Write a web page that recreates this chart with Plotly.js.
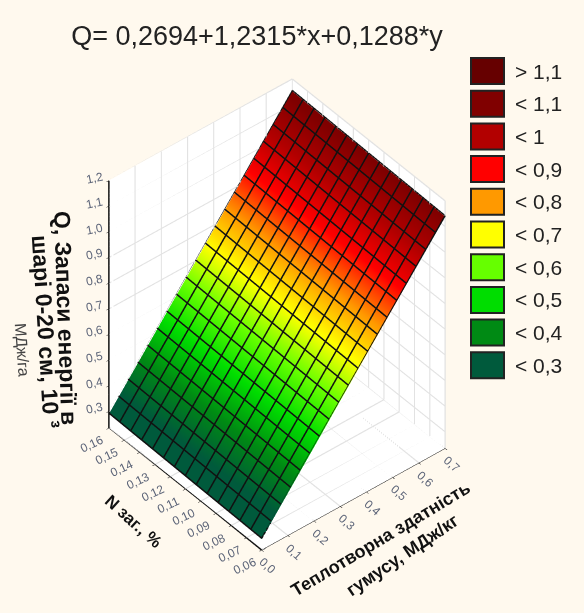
<!DOCTYPE html>
<html><head><meta charset="utf-8">
<script src="https://cdn.plot.ly/plotly-3.0.1.min.js"></script>
<style>html,body{margin:0;padding:0;background:#fff9ee}</style></head>
<body><div id="c" style="width:584px;height:613px"></div>
<script>
const xVals=[0,0.1,0.2,0.3,0.4,0.5,0.6,0.7];
const yVals=[0.06,0.08,0.10,0.12,0.14,0.16];
const zRow006=[0.277,0.400,0.523,0.647,0.770,0.893,1.016,1.139];
const zRow008=[0.280,0.403,0.526,0.649,0.772,0.895,1.019,1.142];
const zRow010=[0.282,0.405,0.529,0.652,0.775,0.898,1.021,1.144];
const zRow012=[0.285,0.408,0.531,0.654,0.777,0.901,1.024,1.147];
const zRow014=[0.287,0.411,0.534,0.657,0.780,0.903,1.026,1.149];
const zRow016=[0.290,0.413,0.536,0.659,0.783,0.906,1.029,1.152];
const zRows=[zRow006,zRow008,zRow010,zRow012,zRow014,zRow016];
const legendLabels=['> 1,1','< 1,1','< 1','< 0,9','< 0,8','< 0,7','< 0,6','< 0,5','< 0,4','< 0,3'];
const legendColors=['#660000','#800000','#b20000','#ff0000','#ff9900','#ffff00','#66ff00','#00dd00','#008a14','#005a3c'];
const levelValues=[1.24,1.14,1.04,0.94,0.84,0.74,0.64,0.54,0.44,0.34];
const xTicks=[0,0.1,0.2,0.3,0.4,0.5,0.6,0.7];
const yTicks=[0.06,0.07,0.08,0.09,0.10,0.11,0.12,0.13,0.14,0.15,0.16];
const zTicks=[0.3,0.4,0.5,0.6,0.7,0.8,0.9,1.0,1.1,1.2];
const zMin=0.235,zMax=1.2,xMax=0.7,yMin=0.06,yMax=0.16;
const xCells=19,yCells=14;
const titleText='Q= 0,2694+1,2315*x+0,1288*y';
const bg='#fff9ee';
const fmt=(v,d)=>v.toFixed(d).replace('.',',');
const tickFont={family:'Liberation Sans',size:12,color:'#5c6478'};
const ann=[];
xTicks.forEach(v=>ann.push({x:v,y:yMin,z:zMin,text:fmt(v,1),textangle:42,showarrow:false,xshift:6,yshift:-16,font:tickFont}));
yTicks.forEach(v=>ann.push({x:0,y:v,z:zMin,text:fmt(v,2),textangle:-25,showarrow:false,xshift:-17,yshift:-16,font:tickFont}));
zTicks.forEach(v=>ann.push({x:0,y:yMax,z:v,text:fmt(v,1),textangle:-12,showarrow:false,xshift:-14,yshift:3,font:tickFont}));
const bold=s=>({family:'Liberation Sans',size:s,color:'#111'});
ann.push({x:0,y:yMax,z:0.665,text:'<b>Q, Запаси енергії в</b>',textangle:88,showarrow:false,xshift:-43,font:bold(23)});
ann.push({x:0,y:yMax,z:0.61,text:'<b>шарі 0-20 см, 10 ³</b>',textangle:86.5,showarrow:false,xshift:-63,font:bold(23)});
ann.push({x:0,y:yMax,z:0.54,text:'МДж/га',textangle:86,showarrow:false,xshift:-87,font:{family:'Liberation Sans',size:16,color:'#444'}});
ann.push({x:0,y:0.11,z:zMin,text:'<b>N заг., %</b>',textangle:42,showarrow:false,xshift:-52,yshift:-32,font:bold(17)});
ann.push({x:0.4,y:yMin,z:zMin,text:'<b>Теплотворна здатність</b>',textangle:-31,showarrow:false,xshift:14,yshift:-47,font:bold(18)});
ann.push({x:0.4,y:yMin,z:zMin,text:'<b>гумусу, МДж/кг</b>',textangle:-34,showarrow:false,xshift:36,yshift:-63,font:bold(18)});
const vmin=0.24,vmax=1.24;
const cs=levelValues.map((v,i)=>[(v-vmin)/(vmax-vmin),legendColors[i]]).reverse();
cs.unshift([0,'#005a3c']);
const surface={type:'surface',x:xVals,y:yVals,z:zRows,cmin:vmin,cmax:vmax,colorscale:cs,showscale:false,hoverinfo:'skip',
 lighting:{ambient:1,diffuse:0,specular:0,roughness:1,fresnel:0}};
const lift=0.004;
const gx=[],gy=[],gz=[];
const nRow=yVals.length-1,nCol=xVals.length-1;
function edgeZ(xFrac,row){return zRows[row][0]+(zRows[row][nCol]-zRows[row][0])*xFrac;}
for(let i=0;i<=xCells;i++){const f=i/xCells;
 gx.push(xMax*f,xMax*f,null);gy.push(yMin,yMax,null);gz.push(edgeZ(f,0)+lift,edgeZ(f,nRow)+lift,null);}
for(let j=0;j<=yCells;j++){const g=j/yCells,yy=yMin+(yMax-yMin)*g;
 gx.push(0,xMax,null);gy.push(yy,yy,null);
 gz.push(zRows[0][0]+(zRows[nRow][0]-zRows[0][0])*g+lift,zRows[0][nCol]+(zRows[nRow][nCol]-zRows[0][nCol])*g+lift,null);}
const mesh={type:'scatter3d',mode:'lines',x:gx,y:gy,z:gz,line:{color:'#111',width:3},hoverinfo:'skip',connectgaps:false};
const spines={type:'scatter3d',mode:'lines',x:[0,0,null,0,0,xMax],y:[yMax,yMax,null,yMax,yMin,yMin],z:[zMin,zMax,null,zMin,zMin,zMin],line:{color:'#111',width:3},hoverinfo:'skip'};
const wx=[],wy=[],wz=[];
function seg(a,b){wx.push(a[0],b[0],null);wy.push(a[1],b[1],null);wz.push(a[2],b[2],null);}
xTicks.forEach(v=>{seg([v,yMin,zMin],[v,yMax,zMin]);seg([v,yMax,zMin],[v,yMax,zMax]);});
yTicks.forEach(v=>{seg([0,v,zMin],[xMax,v,zMin]);seg([xMax,v,zMin],[xMax,v,zMax]);});
zTicks.concat([zMax]).forEach(v=>{seg([0,yMax,v],[xMax,yMax,v]);seg([xMax,yMax,v],[xMax,yMin,v]);});
const walls={type:'scatter3d',mode:'lines',x:wx,y:wy,z:wz,line:{color:'#e2e2e2',width:2.5},hoverinfo:'skip'};
const axisBase={showticklabels:false,showgrid:false,title:{text:''},showbackground:true,backgroundcolor:'#ffffff',showline:true,linecolor:'#111',linewidth:1,ticks:'outside',ticklen:3,tickcolor:'#111',zeroline:false,showspikes:false};
const shapes=[],lann=[];
const top0=58,step=32.7,h=26;
legendLabels.forEach((t,i)=>{
 shapes.push({type:'rect',xref:'paper',yref:'paper',x0:471/584,x1:504/584,y0:1-(top0+i*step+h)/613,y1:1-(top0+i*step)/613,fillcolor:legendColors[i],line:{color:'#222',width:2}});
 lann.push({xref:'paper',yref:'paper',x:513/584,y:1-(top0+i*step+h/2)/613,xanchor:'left',yanchor:'middle',showarrow:false,text:t,font:{family:'Liberation Sans',size:21,color:'#222'}});
});
const layout={width:584,height:613,margin:{l:0,r:0,t:0,b:0},paper_bgcolor:bg,plot_bgcolor:bg,showlegend:false,
 title:{text:titleText,x:257/584,xanchor:'center',y:1-36/613,yanchor:'middle',font:{family:'Liberation Sans',size:27,color:'#222'}},
 shapes:shapes,annotations:lann,
 scene:{domain:{x:[0,0.949],y:[0,0.974]},bgcolor:'rgba(0,0,0,0)',
  aspectmode:'manual',aspectratio:{x:0.8,y:0.8,z:1.11},
  camera:{eye:{x:-1.518,y:-1.822,z:2.11},center:{x:0,y:0,z:0},up:{x:0,y:0,z:1},projection:{type:'orthographic'}},
  xaxis:Object.assign({},axisBase,{range:[0,xMax],tickvals:xTicks}),
  yaxis:Object.assign({},axisBase,{range:[yMin,yMax],tickvals:yTicks}),
  zaxis:Object.assign({},axisBase,{range:[zMin,zMax],tickvals:zTicks}),
  annotations:ann}};
Plotly.newPlot('c',[walls,surface,mesh,spines],layout,{displayModeBar:false});
</script></body></html>
